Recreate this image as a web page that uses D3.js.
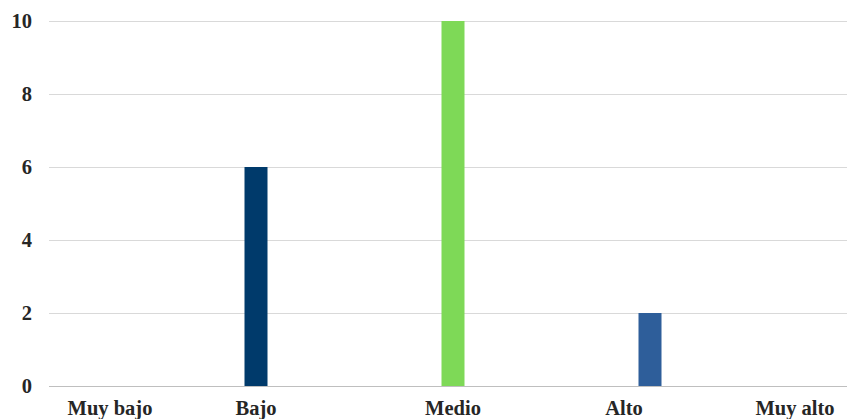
<!DOCTYPE html>
<html><head><meta charset="utf-8">
<script src="https://cdn.jsdelivr.net/npm/d3@7"></script>
<style>body{margin:0;background:#fff}svg{display:block}</style>
</head><body>
<svg id="c" width="847" height="419"></svg>
<script>
const categories = ["Muy bajo", "Bajo", "Medio", "Alto", "Muy alto"];
const values = [0, 6, 10, 2, 0];
const colors = ["#003a6b", "#003a6b", "#7ed957", "#2e5e9a", "#2e5e9a"];
const yTicks = [0, 2, 4, 6, 8, 10];

// layout
const W = 847, H = 419;
const plotLeft = 49, plotRight = 847, plotTop = 21, plotBottom = 386;
const labelNudge = {"Muy bajo": 51, "Bajo": 0, "Medio": 0, "Alto": -26, "Muy alto": -52};
const barW = 23;
const font = "'Liberation Serif','Times New Roman',serif";

const svg = d3.select("#c");
const x = d3.scaleBand().domain(categories).range([-39.5, 945.5]);
const y = d3.scaleLinear().domain([0, 10]).range([plotBottom, plotTop]);

// gridlines
svg.append("g").selectAll("line").data(yTicks.filter(d => d > 0)).join("line")
  .attr("x1", plotLeft).attr("x2", plotRight)
  .attr("y1", d => y(d) + 0.5).attr("y2", d => y(d) + 0.5)
  .attr("stroke", "#d9d9d9").attr("stroke-width", 1);

// bars
svg.append("g").selectAll("rect").data(categories).join("rect")
  .attr("x", d => x(d) + x.bandwidth() / 2 - barW / 2)
  .attr("width", barW)
  .attr("y", (d, i) => y(values[i]))
  .attr("height", (d, i) => y(0) - y(values[i]))
  .attr("fill", (d, i) => colors[i]);

// baseline
svg.append("line").attr("x1", plotLeft).attr("x2", plotRight)
  .attr("y1", y(0) + 0.5).attr("y2", y(0) + 0.5)
  .attr("stroke", "#bfbfbf").attr("stroke-width", 1);

// y tick labels
svg.append("g").selectAll("text").data(yTicks).join("text")
  .attr("x", 32).attr("y", d => y(d))
  .attr("dy", "0.35em").attr("text-anchor", "end")
  .attr("font-family", font).attr("font-weight", "bold").attr("font-size", 20.5)
  .attr("fill", "#262626").text(d => d);

// x labels
svg.append("g").selectAll("text").data(categories).join("text")
  .attr("x", d => x(d) + x.bandwidth() / 2 + labelNudge[d])
  .attr("y", 415).attr("text-anchor", "middle")
  .attr("font-family", font).attr("font-weight", "bold").attr("font-size", 20.5)
  .attr("fill", "#262626").text(d => d);
</script>
</body></html>
